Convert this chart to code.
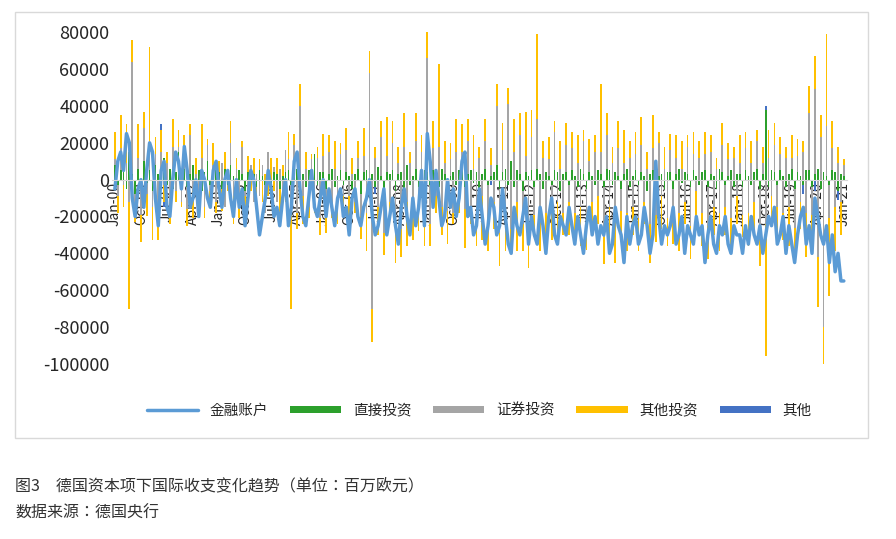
import numpy as np, pandas as pd, seaborn as sns, matplotlib
matplotlib.use("Agg")
import matplotlib.pyplot as plt

months = pd.date_range("2000-01-01", "2021-01-01", freq="MS")
labels = [d.strftime("%b-%y") for d in months]

direct = [8,-3,5,10,-5,15,3,-8,6,-4,10,-2, 5,-6,8,3,-4,12,-3,6,-5,4,15,-3, 6,-4,3,8,-2,5,-6,4,10,-3,2,5,
 4,-5,6,-3,8,2,-4,5,3,-6,4,2, 3,-4,5,2,-3,6,-2,4,3,-5,2,4, 5,-3,4,6,-2,3,-4,5,2,14,-3,4,
 4,-5,3,6,-4,2,5,-3,4,2,-5,3, 6,-8,4,5,-6,3,-4,7,2,-5,4,3, 5,-6,3,4,-5,8,-3,2,6,-4,3,5,
 4,-3,5,2,-4,6,3,-5,2,4,-3,5, 6,-4,3,5,-2,4,-5,3,6,-3,2,4, 8,-5,4,6,-3,10,-4,5,3,-6,4,2,
 5,-4,6,3,-5,4,2,-3,5,4,-6,3, 4,-3,5,2,-4,6,3,-5,4,2,-3,5, 3,-4,6,5,-3,4,2,-5,3,6,-4,2,
 5,-3,4,2,-6,3,5,-4,2,3,-5,4, 4,-5,3,6,-2,4,3,-4,5,2,-3,4, 5,-4,3,2,-5,6,4,-3,2,5,-4,3,
 3,-4,5,2,-3,4,6,-5,3,38,-4,5, 4,-3,5,2,-4,3,6,-5,4,2,-3,5, 5,-4,3,6,-5,4,2,-3,5,4,-6,3, 2]
portfolio = [3,-6,12,-3,9,-12,61,-9,6,-15,18,-6, 12,-9,6,-18,15,-3,9,-12,18,-6,3,-9,
 6,-12,21,-6,3,-9,12,-15,9,-3,6,-12, -6,9,-15,3,12,-9,6,-12,15,-3,-9,6,
 -12,3,-9,6,-15,9,-6,3,-12,6,-9,12, 6,-12,15,-18,40,-9,6,-15,9,-6,12,-21,
 9,-6,12,-15,6,-12,9,-6,12,-9,3,-12, 6,-12,9,-18,58,-70,12,-15,21,-24,9,-12,
 15,-18,6,-27,18,-12,9,-21,15,-6,12,-24, 62,-21,12,-9,18,-15,6,-12,9,-18,15,-6,
 9,-12,18,-15,6,-21,12,-9,15,-18,6,-12, 32,-24,12,-18,41,-27,15,-12,21,-18,9,-30,
 18,-15,27,-21,12,-18,9,-15,21,-12,6,-18, 15,-9,12,-18,9,-15,18,-21,6,-12,15,-9,
 12,-27,18,-15,9,-21,15,-12,6,-18,12,-15, 9,-18,15,-12,6,-24,12,-15,18,-9,6,-21,
 12,-15,9,-18,6,-12,15,-21,9,-6,12,-18, 9,-21,12,-15,6,-18,15,-12,9,-21,12,-9,
 6,-15,12,-18,9,-12,15,-21,6,-24,12,-9, 15,-12,9,-18,12,-15,6,-21,9,-12,15,-18,
 31,-15,46,-42,23,-80,27,-18,12,-15,9,-12, 6]
other_inv = [15,-9,18,-12,21,-58,12,-6,18,-15,9,-12, 55,-18,9,-15,12,-9,6,-12,15,-6,9,-3,
 12,-9,6,-15,9,-12,18,-6,3,-9,12,-6, 6,-12,9,-3,12,-15,6,-9,3,-12,9,-6,
 9,-15,6,-12,3,-9,12,-6,9,-18,6,-12, 15,-55,6,-9,12,-15,9,-6,3,-12,6,-9,
 12,-18,9,-6,15,-12,6,-9,12,-15,9,-6, 9,-12,15,-21,12,-18,6,-15,9,-12,21,-6,
 12,-21,9,-15,18,-24,6,-12,15,-18,9,-12, 18,-12,15,-9,45,-15,12,-18,9,-6,18,-12,
 15,-21,12,-9,18,-15,6,-24,12,-18,9,-15, 12,-18,15,-21,9,-12,18,-27,12,-15,24,-18,
 15,-12,46,-18,9,-21,12,-15,6,-18,15,-12, 12,-18,9,-15,15,-21,6,-12,12,-18,9,-15,
 37,-15,12,-18,9,-24,15,-12,18,-21,9,-15, 12,-18,15,-12,9,-21,18,-15,6,-18,12,-15,
 9,-15,12,-21,15,-12,6,-18,12,-15,9,-18, 12,-18,9,-15,6,-21,12,-15,9,-18,6,-15,
 15,-12,9,-18,12,-15,6,-21,9,-72,15,-12, 12,-18,9,-15,6,-21,12,-18,9,-15,6,-24,
 15,-21,18,-27,12,-36,50,-42,15,-24,9,-18, 3]
other_idx = [16, 17, 90, 108, 130, 171, 225, 238, 242, 250]
other_val = [3, -3, -4, 3, -3, -4, 2, -5, -6, -5]
fin = [-5,10,15,5,25,20,-10,-20,-5,0,-15,5, 20,15,-10,-25,5,10,-15,-20,0,15,10,-5,
 18,5,-15,-10,0,-20,5,0,-10,-15,5,10, -5,-15,0,5,-10,-20,0,-15,-5,-25,-10,5,
 0,-15,-30,-20,-10,5,-5,-20,-15,-25,-10,0, -25,-15,10,15,-5,-20,-25,-10,5,-15,-20,-10,
 0,-20,-5,-15,-25,-10,-5,-20,-15,-30,-10,-5, -20,-25,-15,-10,0,-20,-30,-25,-15,-5,-30,-20,
 -10,-25,-35,-15,-5,-20,-30,-10,-25,-15,5,-25, 25,10,-15,5,-10,-25,-20,0,-15,-5,-20,-10,
 10,15,-20,-15,-30,-25,-5,-20,-35,-25,-10,-15, -30,-25,-5,-20,-35,-40,-15,-25,-30,-20,-10,-35,
 -20,-30,-35,-15,-25,-40,-20,-10,-30,-35,-20,-25, -30,-15,-25,-35,-20,-30,-40,-25,-15,-30,-20,-35,
 -25,-30,-20,-40,-35,-15,-25,-30,-45,-20,-35,-25, -20,-35,-30,-15,-25,-40,-30,10,-20,-35,-25,-30,
 -25,-15,-35,-30,-20,-40,-25,-30,-35,-20,-30,-25, -45,-30,-20,-35,-40,-25,-30,-20,-35,-40,-25,-30,
 -30,-40,-25,-35,-20,-30,-35,-25,-40,-30,-20,-25, -15,-35,-30,-20,-40,-25,-35,-45,-30,-20,-15,-35,
 -25,-40,-10,-20,-30,-35,-25,-45,-30,-50,-40,-55, -55]

n = len(months)
other = np.zeros(n)
other[other_idx] = other_val
series = {"直接投资": (np.array(direct)*1000, "#2ca02c"),
          "证券投资": (np.array(portfolio)*1000, "#a5a5a5"),
          "其他投资": (np.array(other_inv)*1000, "#ffc000"),
          "其他": (other*1000, "#4472c4")}

sns.set_style("white")
cjk = ["Noto Sans CJK SC", "Noto Sans CJK JP", "Noto Sans CJK TC", "Noto Sans CJK KR", "DejaVu Sans"]
plt.rcParams["font.family"] = "sans-serif"
plt.rcParams["font.sans-serif"] = cjk
fig = plt.figure(figsize=(8.96, 5.39), dpi=100)
ax = fig.add_axes([0.125, 0.325, 0.82, 0.615])
x = np.arange(n)
pos = np.zeros(n); neg = np.zeros(n)
for name, (v, c) in series.items():
    b = np.where(v >= 0, pos, neg)
    ax.bar(x, v, bottom=b, width=0.6, color=c, label=name, linewidth=0)
    pos += np.clip(v, 0, None); neg += np.clip(v, None, 0)
df = pd.DataFrame({"x": x, "fin": np.array(fin)*1000})
sns.lineplot(data=df, x="x", y="fin", ax=ax, color="#5b9bd5", lw=2.5, label="金融账户")
ax.set_ylim(-100000, 80000)
ax.set_yticks(range(-100000, 80001, 20000))
ax.set_yticklabels([str(v).replace("-", "−") if False else str(v) for v in range(-100000, 80001, 20000)], fontsize=13)
ax.set_xlim(-1, n)
ax.set_xticks(x[::9]); ax.set_xticklabels(labels[::9], fontsize=13)
ax.tick_params(axis="x", labelrotation=90)
ax.spines["bottom"].set_position(("data", 0))
for s in ["top", "right", "left"]: ax.spines[s].set_visible(False)
ax.spines["bottom"].set_color("#d9d9d9")
ax.tick_params(axis="both", length=0, pad=2)
ax.set_xlabel(""); ax.set_ylabel("")
ax.legend(loc="upper center", bbox_to_anchor=(0.5, -0.08), ncol=5, frameon=False, fontsize=10.5,
          handlelength=3.5, handleheight=0.4, columnspacing=1.5)
fig.add_artist(plt.Rectangle((0.017, 0.188), 0.952, 0.79, transform=fig.transFigure, fill=False, ec="#d9d9d9", lw=1))
fig.text(0.017, 0.09, "图3　德国资本项下国际收支变化趋势（单位：百万欧元）", fontsize=11.5, color="#333333")
fig.text(0.017, 0.04, "数据来源：德国央行", fontsize=11.5, color="#333333")
fig.savefig("out.png", dpi=100)
